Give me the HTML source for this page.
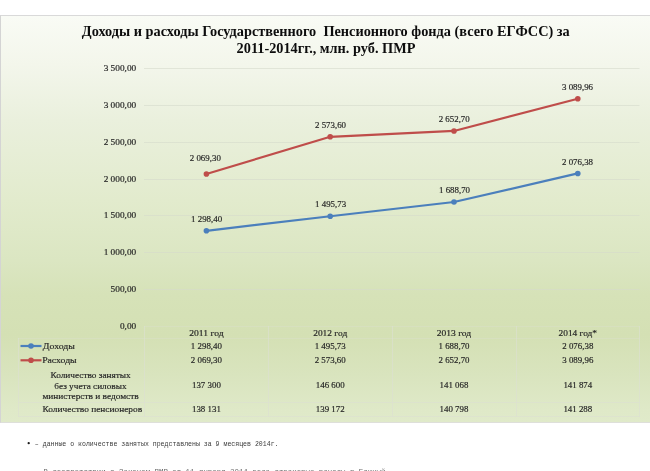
<!DOCTYPE html>
<html><head><meta charset="utf-8">
<style>
html,body{-webkit-font-smoothing:antialiased;margin:0;padding:0;background:#fff;width:650px;height:471px;overflow:hidden}
#chart{position:absolute;left:0;top:15px;width:650px;height:408px;box-sizing:border-box;border-top:1px solid #D9D9D9;border-bottom:1px solid #DEDFDA;border-left:1px solid #D4D4D4;
background:linear-gradient(to bottom,#F9FBF5 0px,#F3F6EB 49px,#EAF0DD 104px,#E2EBCD 184px,#DBE6C2 244px,#D6E2B8 279px,#D4E0B4 319px,#D9E4BE 359px,#DFE9C8 394px,#E0EACA 406px)}
svg{position:absolute;left:0;top:0;will-change:transform}
.v{font-family:"Liberation Serif",serif;font-size:8.9px;fill:#262626;stroke:#262626;stroke-width:0.18px}
.t{font-family:"Liberation Serif",serif;font-size:14.3px;font-weight:bold;fill:#0d0d0d}
.f{font-family:"Liberation Mono",monospace;font-size:7.4px;fill:#3a3a3a}
</style></head><body>
<div id="chart"></div>
<svg width="650" height="471" viewBox="0 0 650 471">
<line x1="144" y1="68.5" x2="639.5" y2="68.5" stroke="#D5DACB" stroke-opacity="0.6" stroke-width="1"/>
<line x1="144" y1="105.5" x2="639.5" y2="105.5" stroke="#D5DACB" stroke-opacity="0.6" stroke-width="1"/>
<line x1="144" y1="142.5" x2="639.5" y2="142.5" stroke="#D5DACB" stroke-opacity="0.6" stroke-width="1"/>
<line x1="144" y1="179.5" x2="639.5" y2="179.5" stroke="#D5DACB" stroke-opacity="0.6" stroke-width="1"/>
<line x1="144" y1="215.5" x2="639.5" y2="215.5" stroke="#D5DACB" stroke-opacity="0.6" stroke-width="1"/>
<line x1="144" y1="252.5" x2="639.5" y2="252.5" stroke="#D5DACB" stroke-opacity="0.6" stroke-width="1"/>
<line x1="144" y1="289.5" x2="639.5" y2="289.5" stroke="#D5DACB" stroke-opacity="0.6" stroke-width="1"/>
<text x="136.2" y="71.2" text-anchor="end" class="v" textLength="32.55" lengthAdjust="spacingAndGlyphs">3 500,00</text>
<text x="136.2" y="108.2" text-anchor="end" class="v" textLength="32.55" lengthAdjust="spacingAndGlyphs">3 000,00</text>
<text x="136.2" y="145.2" text-anchor="end" class="v" textLength="32.55" lengthAdjust="spacingAndGlyphs">2 500,00</text>
<text x="136.2" y="182.2" text-anchor="end" class="v" textLength="32.55" lengthAdjust="spacingAndGlyphs">2 000,00</text>
<text x="136.2" y="218.2" text-anchor="end" class="v" textLength="32.55" lengthAdjust="spacingAndGlyphs">1 500,00</text>
<text x="136.2" y="255.2" text-anchor="end" class="v" textLength="32.55" lengthAdjust="spacingAndGlyphs">1 000,00</text>
<text x="136.2" y="292.2" text-anchor="end" class="v" textLength="25.58" lengthAdjust="spacingAndGlyphs">500,00</text>
<text x="136.2" y="329.2" text-anchor="end" class="v" textLength="16.28" lengthAdjust="spacingAndGlyphs">0,00</text>
<line x1="144" y1="326.5" x2="639.5" y2="326.5" stroke="#DCE0D2" stroke-opacity="0.35"/>
<line x1="18" y1="338.5" x2="639.5" y2="338.5" stroke="#DCE0D2" stroke-opacity="0.35"/>
<line x1="18" y1="402.5" x2="639.5" y2="402.5" stroke="#DCE0D2" stroke-opacity="0.6"/>
<line x1="18" y1="416.5" x2="639.5" y2="416.5" stroke="#DCE0D2" stroke-opacity="0.6"/>
<line x1="18.5" y1="338" x2="18.5" y2="417" stroke="#DCE0D2" stroke-opacity="0.6"/>
<line x1="144.5" y1="326" x2="144.5" y2="417" stroke="#DCE0D2" stroke-opacity="0.6"/>
<line x1="268.5" y1="326" x2="268.5" y2="417" stroke="#DCE0D2" stroke-opacity="0.6"/>
<line x1="392.5" y1="326" x2="392.5" y2="417" stroke="#DCE0D2" stroke-opacity="0.6"/>
<line x1="516.5" y1="326" x2="516.5" y2="417" stroke="#DCE0D2" stroke-opacity="0.6"/>
<line x1="639.5" y1="326" x2="639.5" y2="417" stroke="#DCE0D2" stroke-opacity="0.6"/>
<polyline points="206.4,230.79 330.2,216.24 454.0,202.02 577.8,173.44" fill="none" stroke="#4B7FBC" stroke-width="2.2" stroke-linejoin="round" stroke-linecap="round"/><circle cx="206.4" cy="230.79" r="2.8" fill="#4B7FBC"/><circle cx="330.2" cy="216.24" r="2.8" fill="#4B7FBC"/><circle cx="454.0" cy="202.02" r="2.8" fill="#4B7FBC"/><circle cx="577.8" cy="173.44" r="2.8" fill="#4B7FBC"/>
<polyline points="206.4,173.96 330.2,136.79 454.0,130.96 577.8,98.73" fill="none" stroke="#BF4D4A" stroke-width="2.2" stroke-linejoin="round" stroke-linecap="round"/><circle cx="206.4" cy="173.96" r="2.8" fill="#BF4D4A"/><circle cx="330.2" cy="136.79" r="2.8" fill="#BF4D4A"/><circle cx="454.0" cy="130.96" r="2.8" fill="#BF4D4A"/><circle cx="577.8" cy="98.73" r="2.8" fill="#BF4D4A"/>
<text x="205.3" y="161.0" text-anchor="middle" class="v">2 069,30</text>
<text x="330.5" y="127.9" text-anchor="middle" class="v">2 573,60</text>
<text x="454.2" y="121.9" text-anchor="middle" class="v">2 652,70</text>
<text x="577.5" y="90.0" text-anchor="middle" class="v">3 089,96</text>
<text x="206.6" y="221.7" text-anchor="middle" class="v">1 298,40</text>
<text x="330.6" y="206.9" text-anchor="middle" class="v">1 495,73</text>
<text x="454.5" y="192.9" text-anchor="middle" class="v">1 688,70</text>
<text x="577.5" y="164.5" text-anchor="middle" class="v">2 076,38</text>
<text x="206.4" y="336" text-anchor="middle" class="v" textLength="34.4" lengthAdjust="spacingAndGlyphs">2011 год</text>
<text x="330.2" y="336" text-anchor="middle" class="v" textLength="34.0" lengthAdjust="spacingAndGlyphs">2012 год</text>
<text x="454.0" y="336" text-anchor="middle" class="v" textLength="34.4" lengthAdjust="spacingAndGlyphs">2013 год</text>
<text x="577.8" y="336" text-anchor="middle" class="v" textLength="38.4" lengthAdjust="spacingAndGlyphs">2014 год*</text>
<text x="206.4" y="349.0" text-anchor="middle" class="v">1 298,40</text>
<text x="330.2" y="349.0" text-anchor="middle" class="v">1 495,73</text>
<text x="454.0" y="349.0" text-anchor="middle" class="v">1 688,70</text>
<text x="577.8" y="349.0" text-anchor="middle" class="v">2 076,38</text>
<text x="206.4" y="363.3" text-anchor="middle" class="v">2 069,30</text>
<text x="330.2" y="363.3" text-anchor="middle" class="v">2 573,60</text>
<text x="454.0" y="363.3" text-anchor="middle" class="v">2 652,70</text>
<text x="577.8" y="363.3" text-anchor="middle" class="v">3 089,96</text>
<text x="206.4" y="388.0" text-anchor="middle" class="v">137 300</text>
<text x="330.2" y="388.0" text-anchor="middle" class="v">146 600</text>
<text x="454.0" y="388.0" text-anchor="middle" class="v">141 068</text>
<text x="577.8" y="388.0" text-anchor="middle" class="v">141 874</text>
<text x="206.4" y="412.4" text-anchor="middle" class="v">138 131</text>
<text x="330.2" y="412.4" text-anchor="middle" class="v">139 172</text>
<text x="454.0" y="412.4" text-anchor="middle" class="v">140 798</text>
<text x="577.8" y="412.4" text-anchor="middle" class="v">141 288</text>
<line x1="20.5" y1="346" x2="41.5" y2="346" stroke="#4B7FBC" stroke-width="2.2"/><circle cx="31" cy="346" r="2.8" fill="#4B7FBC"/>
<line x1="20.5" y1="360.3" x2="41.5" y2="360.3" stroke="#BF4D4A" stroke-width="2.2"/><circle cx="31" cy="360.3" r="2.8" fill="#BF4D4A"/>
<text x="58.85" y="349.0" text-anchor="middle" class="v" textLength="32.00" lengthAdjust="spacingAndGlyphs">Доходы</text>
<text x="59.40" y="363.1" text-anchor="middle" class="v" textLength="34.50" lengthAdjust="spacingAndGlyphs">Расходы</text>
<text x="90.60" y="378.2" text-anchor="middle" class="v" textLength="80.30" lengthAdjust="spacingAndGlyphs">Количество занятых</text>
<text x="90.45" y="388.7" text-anchor="middle" class="v" textLength="72.20" lengthAdjust="spacingAndGlyphs">без учета силовых</text>
<text x="90.60" y="398.8" text-anchor="middle" class="v" textLength="96.30" lengthAdjust="spacingAndGlyphs">министерств и ведомств</text>
<text x="92.30" y="412.4" text-anchor="middle" class="v" textLength="99.70" lengthAdjust="spacingAndGlyphs">Количество пенсионеров</text>
<text x="325.8" y="35.5" text-anchor="middle" class="t" xml:space="preserve">Доходы и расходы Государственного  Пенсионного фонда (всего ЕГФСС) за</text>
<text x="326" y="53.1" text-anchor="middle" class="t">2011-2014гг., млн. руб. ПМР</text>
<circle cx="28.7" cy="443.2" r="1.15" fill="#1a1a1a"/>
<text x="27" y="445.8" class="f" textLength="251.5" lengthAdjust="spacingAndGlyphs" xml:space="preserve">  – данные о количестве занятых представлены за 9 месяцев 2014г.</text>
<text x="43.5" y="474.25" class="f" style="fill:#6a6a6a" textLength="342" lengthAdjust="spacingAndGlyphs">В соответствии с Законом ПМР от 11 января 2014 года страховые взносы в Единый</text>
</svg>

</body></html>
